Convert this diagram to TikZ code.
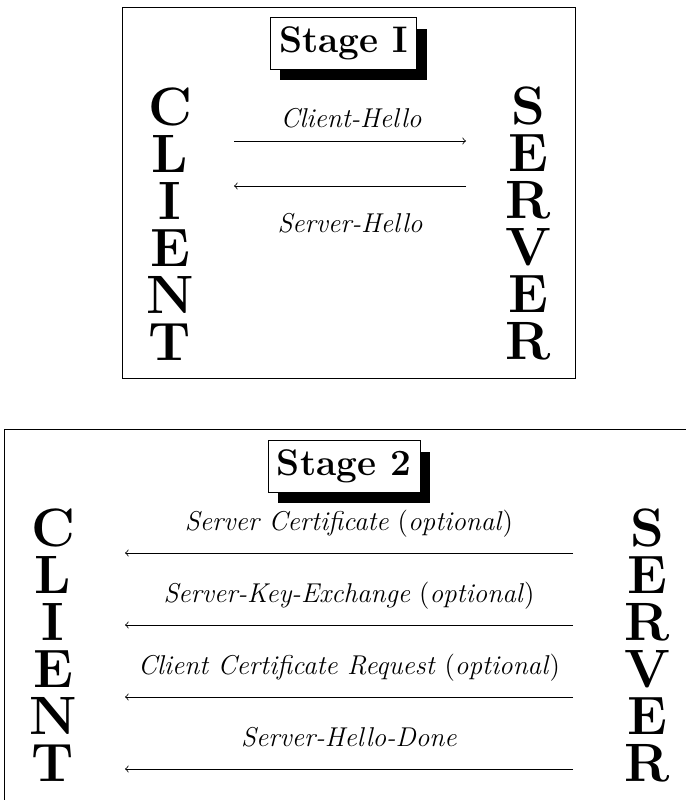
\documentclass[tikz,border=0pt]{standalone}
\usepackage{fontspec}
\usetikzlibrary{shadows}
\newcommand{\msgfont}{\fontsize{13.6}{16}\selectfont}
\newcommand{\bigletters}{\fontsize{27}{23.5}\selectfont\bfseries}
\tikzset{
  stagebox/.style={draw, fill=white, inner sep=4.5pt,
    font=\fontsize{18.5}{22}\selectfont\bfseries,
    drop shadow={shadow xshift=5pt, shadow yshift=-5.5pt, fill=black, opacity=1}},
  party/.style={align=center, inner sep=0pt, font=\bigletters},
  msg/.style={anchor=base, inner sep=0pt, font=\msgfont}
}
\begin{document}
\begin{tikzpicture}[x=0.5pt,y=0.5pt]
   \useasboundingbox (0,0) rectangle (686,800);
   \clip (0,0) rectangle (686,800);
   % stage 1
   \draw (122,422) rectangle (575,793);
   \node[stagebox] (stage1) at (343.5,756.5) {Stage I};
   \node[party] (client1) at (170,576) {C\\L\\I\\E\\N\\T};
   \node[party] (server1) at (528,577) {S\\E\\R\\V\\E\\R};
   \coordinate (c1a) at (234,659);
   \coordinate (s1a) at (466,659);
   \coordinate (c1b) at (234,614);
   \coordinate (s1b) at (466,614);
   \draw[->] (c1a) -- (s1a);
   \draw[->] (s1b) -- (c1b);
   \node[msg] (chello) at (351,672) {\textit{Client-Hello}};
   \node[msg] (shello) at (350,567) {\textit{Server-Hello}};
   % stage 2
   \draw (4,371) rectangle (693,-60);
   \node[stagebox] (stage2) at (344,333.5) {Stage 2};
   \node[party] (client2) at (53,155) {C\\L\\I\\E\\N\\T};
   \node[party] (server2) at (647,155) {S\\E\\R\\V\\E\\R};
   \coordinate (c2a) at (125,247);
   \coordinate (s2a) at (573,247);
   \coordinate (c2b) at (125,175);
   \coordinate (s2b) at (573,175);
   \coordinate (c2c) at (125,103);
   \coordinate (s2c) at (573,103);
   \coordinate (c2d) at (125,31);
   \coordinate (s2d) at (573,31);
   \draw[->] (s2a) -- (c2a);
   \draw[->] (s2b) -- (c2b);
   \draw[->] (s2c) -- (c2c);
   \draw[->] (s2d) -- (c2d);
   \node[msg] (scert) at (349,270) {\textit{Server Certificate} (\textit{optional})};
   \node[msg] (skey) at (349,198) {\textit{Server-Key-Exchange} (\textit{optional})};
   \node[msg] (creq) at (349,126) {\textit{Client Certificate Request} (\textit{optional})};
   \node[msg] (sdone) at (349,54) {\textit{Server-Hello-Done}};
\end{tikzpicture}
\end{document}
